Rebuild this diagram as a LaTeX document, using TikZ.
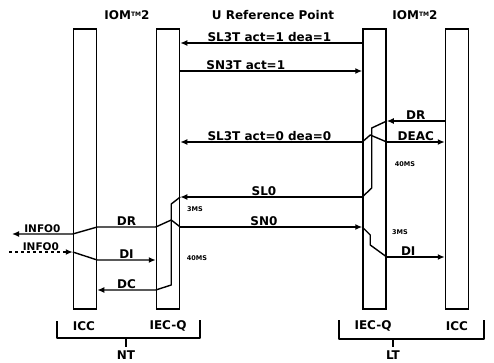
\documentclass[tikz,border=0pt]{standalone}
\usepackage{fontspec}
\setmainfont{DejaVu Sans}
\usetikzlibrary{arrows.meta}

\newcommand{\iomtm}{IOM\raisebox{3pt}{\fontsize{6}{6}\selectfont TM}2}

\begin{document}
\begin{tikzpicture}[
  x=1pt, y=-1pt,
  font=\fontsize{12}{12}\selectfont\bfseries,
  bar/.style  = {draw, line width=1.5pt, minimum width=23pt,
                 minimum height=280pt, inner sep=0pt},
  ln/.style   = {line width=1.4pt, line join=round},
  arr/.style  = {ln, -{Latex[length=7pt,width=6pt]}},
  lbl/.style  = {inner sep=1pt},
  info/.style = {inner sep=1pt, font=\fontsize{10.5}{10.5}\selectfont\bfseries},
  tm/.style   = {inner sep=0pt, font=\fontsize{6.5}{6.5}\selectfont\bfseries}
]
\useasboundingbox (0,0) rectangle (494,363);
%% Chips
\node[bar] (nticc) at (85,169)    {};
\node[bar] (ntq)   at (168,169)   {};
\node[bar] (ltq)   at (374.5,169) {};
\node[bar] (lticc) at (457,169)   {};
%% Headings
\node (ntiom) at (127,15) {\iomtm};
\node (uref)  at (273,15) {U Reference Point};
\node (ltiom) at (415,15) {\iomtm};
%% Chip names and sides
\node (ntn1) at (84,326)  {ICC};
\node (ntn2) at (168,326) {IEC-Q};
\node (ltn1) at (373,326) {IEC-Q};
\node (ltn2) at (457,326) {ICC};
\node (ntg)  at (126,355) {NT};
\node (ltg)  at (393,355) {LT};
\draw[ln] (57,321) |- (200,338) -- (200,320);
\draw[ln] (ntg.north |- 0,338) -- (ntg.north);
\draw[ln] (339,320) |- (484,339) -- (484,320);
\draw[ln] (ltg.north |- 0,339) -- (ltg.north);
%% Time levels
\foreach \n/\y in {sla/43,sna/71,drl/121,dea/142,slz/197,snz/227,
                   inf/234,infd/252,dil/260,dir/257,dcl/290}
  \coordinate (\n) at (0,\y);
\coordinate (infout) at (12,234);
\coordinate (infin)  at (9,252);
%% U interface
\draw[arr] (ltq.west |- sla) -- (ntq.east |- sla)
  node[lbl, above, pos=0.51] (m1) {SL3T act=1 dea=1};
\draw[arr] (ntq.east |- sna) -- (ltq.west |- sna)
  node[lbl, above, pos=0.36] (m2) {SN3T act=1};
\draw[arr] (ltq.west |- dea) -- (ntq.east |- dea)
  node[lbl, above, pos=0.51] (m3) {SL3T act=0 dea=0};
\draw[arr] (ltq.west |- slz) -- (ntq.east |- slz)
  node[lbl, above, pos=0.54] (m4) {SL0};
\draw[arr] (ntq.east |- snz) -- (ltq.west |- snz)
  node[lbl, above, pos=0.46] (m5) {SN0};
%% LT side
\draw[arr] (lticc.west |- drl) -- (ltq.east |- drl)
  node[lbl, above, midway] (m6) {DR};
\draw[arr] (ltq.east |- dea) -- (lticc.west |- dea)
  node[lbl, above, midway] (m7) {DEAC};
\draw[arr] (ltq.east |- dir) -- (lticc.west |- dir)
  node[lbl, above, pos=0.37] (m8) {DI};
\draw[ln] (ltq.east |- drl) -- ++(-15,7) -- ++(0,60) -- (ltq.west |- slz);
\draw[ln] (ltq.west |- dea) -- ++(8,-7) -- (ltq.east |- dea);
\draw[ln] (ltq.west |- snz) -- ++(8,8) -- ++(0,10) -- (ltq.east |- dir);
%% NT side
\draw[arr] (ntq.east |- slz) -- ++(-9,7) -- ++(0,81) -- (ntq.west |- dcl)
  -- (nticc.east |- dcl) node[lbl, above, midway] (m9) {DC};
\draw[arr] (ntq.east |- snz) -- ++(-9,-7) -- (ntq.west |- snz)
  -- (nticc.east |- snz) node[lbl, above, midway] (m10) {DR}
  -- (nticc.west |- inf) -- (infout) node[info, above, midway] (m11) {INFO0};
\draw[arr, dashed] (infin) -- (nticc.west |- infd)
  node[info, above, midway] (m12) {INFO0};
\draw[arr] (nticc.west |- infd) -- (nticc.east |- dil) -- (ntq.west |- dil)
  node[lbl, above, midway] (m13) {DI};
%% Delays
\node[tm] (d1) at (195,209) {3MS};
\node[tm] (d2) at (197,258) {40MS};
\node[tm] (d3) at (405,164) {40MS};
\node[tm] (d4) at (400,232) {3MS};
\end{tikzpicture}
\end{document}
